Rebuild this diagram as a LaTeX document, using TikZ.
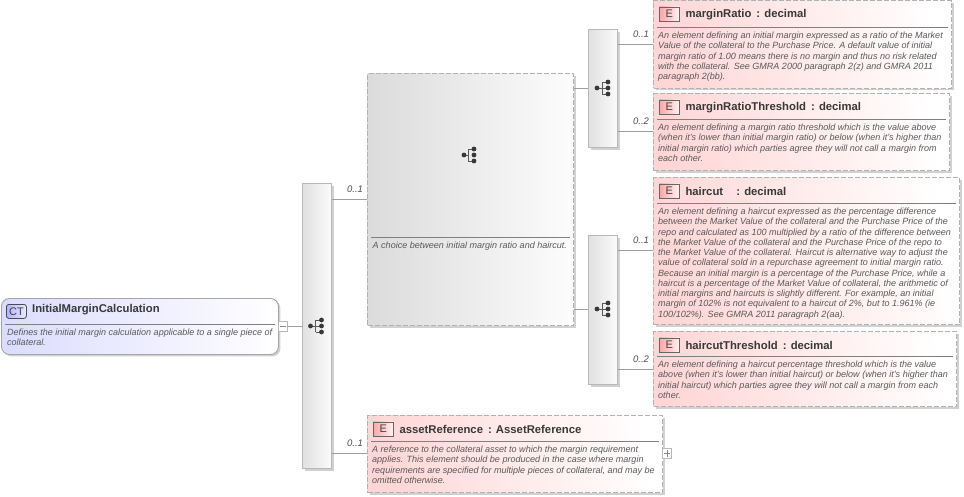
\documentclass[tikz,border=0pt]{standalone}
\usepackage{fontspec}
\usetikzlibrary{shadows}
\setmainfont{Liberation Sans}
\tikzset{
  x=1pt,y=-1pt,
  shadowed/.style={drop shadow={fill=black!18,opacity=1,shadow xshift=2pt,shadow yshift=-2pt}},
  ebox/.style={anchor=north west,inner sep=0,shadowed,draw=black!30,dash pattern=on 5pt off 2pt,line width=1pt,left color=red!16,middle color=red!9,right color=white,shading angle=100},
  chbox/.style={anchor=north west,inner sep=0,shadowed,draw=black!30,dash pattern=on 5pt off 2pt,line width=1pt,left color=black!14,right color=black!1},
  seqbox/.style={anchor=north west,inner sep=0,shadowed,draw=black!28,line width=1pt,left color=black!12,right color=black!1.5},
  ctbox/.style={anchor=north west,inner sep=0,shadowed,draw=black!35,line width=.9pt,rounded corners=8pt,left color=blue!14,right color=white},
  badge/.style={anchor=north west,inner sep=0,draw=black!60,line width=.8pt,left color=red!35,right color=red!5,minimum width=20pt,minimum height=14pt,font=\fontsize{11}{11}\selectfont,text=black!75},
  ttl/.style={anchor=west,inner sep=0,font=\bfseries\fontsize{11.3}{12}\selectfont,text=black!78},
  desc/.style={anchor=north west,inner sep=0,align=left,font=\itshape\fontsize{9.03}{10.25}\selectfont,text=black!65},
  card/.style={anchor=south,inner sep=0,font=\itshape\fontsize{9.5}{10}\selectfont,text=black!70},
  sep/.style={draw=black!50,line width=.7pt},
  conn/.style={draw=black!38,line width=.7pt},
  tog/.style={anchor=north west,inner sep=0,draw=black!28,line width=.6pt,fill=white,minimum width=9pt,minimum height=10pt},
  icon/.style={draw=black!65,line width=.8pt},
}
\newcommand{\seqicon}[2]{%
  \begin{scope}[shift={(#1,#2)}]
    \draw[icon] (-6,0)--(-1,0) (-1,-6)--(-1,6) (-1,-6)--(5,-6) (-1,0)--(5,0) (-1,6)--(5,6);
    \fill[black!78] (-6,0) circle (2.4) (5,-6) circle (2.4) (5,0) circle (2.4) (5,6) circle (2.4);
  \end{scope}}
\newcommand{\choiceicon}[2]{%
  \begin{scope}[shift={(#1,#2)}]
    \draw[icon] (-6,0)--(-2,0) (-2,-6)--(-2,6) (-2,-6)--(4,-6) (-2,6)--(4,6);
    \fill[black!78] (-6,0) circle (2.4) (4,-6) circle (2.4) (4,0) circle (2.4) (4,6) circle (2.4);
  \end{scope}}
\newcommand{\elem}[8]{% name,x,y,w,h,title,sepy,text
  \node[ebox,minimum width=#4pt,minimum height=#5pt] (#1) at (#2,#3) {};
  \node[badge] (#1b) at ([xshift=6pt,yshift=-6.5pt]#1.north west) {E};
  \node[ttl] (#1t) at ([xshift=5.5pt,yshift=-.5pt]#1b.east) {#6};
  \draw[sep] ([xshift=4pt,yshift=-#7pt]#1.north west) -- ([xshift=-4pt,yshift=-#7pt]#1.north east);
  \node[desc] (#1d) at ([xshift=5pt,yshift=-#7pt-4.8pt]#1.north west) {#8};
}
\begin{document}
\begin{tikzpicture}
\useasboundingbox (0,0) rectangle (964,496);

% complex type
\node[ctbox,minimum width=277pt,minimum height=56pt] (ct) at (1,298) {};
\node[anchor=north west,inner sep=0,draw=black!70,line width=.8pt,rounded corners=2.5pt,left color=blue!30,right color=blue!8,minimum width=20pt,minimum height=14pt,font=\fontsize{11}{11}\selectfont,text=black!75] (ctb) at (6,304) {CT};
\node[ttl] (ctt) at (32,310) {InitialMarginCalculation};
\draw[sep] (5,324) -- (275,324);
\node[desc] (ctd) at (7,328.8) {Defines the initial margin calculation applicable to a single piece of\\collateral.};

% sequence and choice boxes
\node[seqbox,minimum width=29pt,minimum height=285pt] (s1) at (302,183) {};
\node[seqbox,minimum width=29pt,minimum height=118pt] (s2) at (588,29) {};
\node[seqbox,minimum width=29pt,minimum height=149pt] (s3) at (588,235) {};
\node[chbox,minimum width=206pt,minimum height=252pt] (ch) at (367,73) {};
\draw[sep] (371,237) -- (570,237);
\node[desc] (chd) at (372.5,241.8) {A choice between initial margin ratio and haircut.};

% elements
\elem{mr}{653}{0}{298}{87.5}{marginRatio\, : decimal}{27}{An element defining an initial margin expressed as a ratio of the Market\\Value of the collateral to the Purchase Price. A default value of initial\\margin ratio of 1.00 means there is no margin and thus no risk related\\with the collateral. See GMRA 2000 paragraph 2(z) and GMRA 2011\\paragraph 2(bb).}
\elem{mt}{653}{93}{296}{77}{marginRatioThreshold\, : decimal}{26}{An element defining a margin ratio threshold which is the value above\\(when it's lower than initial margin ratio) or below (when it's higher than\\initial margin ratio) which parties agree they will not call a margin from\\each other.}
\elem{hc}{653}{177}{306}{147}{haircut\hspace{10pt} : decimal}{26}{An element defining a haircut expressed as the percentage difference\\between the Market Value of the collateral and the Purchase Price of the\\repo and calculated as 100 multiplied by a ratio of the difference between\\the Market Value of the collateral and the Purchase Price of the repo to\\the Market Value of the collateral. Haircut is alternative way to adjust the\\value of collateral sold in a repurchase agreement to initial margin ratio.\\Because an initial margin is a percentage of the Purchase Price, while a\\haircut is a percentage of the Market Value of collateral, the arithmetic of\\initial margins and haircuts is slightly different. For example, an initial\\margin of 102\% is not equivalent to a haircut of 2\%, but to 1.961\% (ie\\100/102\%). See GMRA 2011 paragraph 2(aa).}
\elem{ht}{653}{331}{303}{75}{haircutThreshold\, : decimal}{25}{An element defining a haircut percentage threshold which is the value\\above (when it's lower than initial haircut) or below (when it's higher than\\initial haircut) which parties agree they will not call a margin from each\\other.}
\elem{ar}{367}{415}{295}{77}{assetReference\, : AssetReference}{26}{A reference to the collateral asset to which the margin requirement\\applies. This element should be produced in the case where margin\\requirements are specified for multiple pieces of collateral, and may be\\omitted otherwise.}

% toggles
\node[tog] (minus) at (278,321) {};
\draw[black!45,line width=.5pt] ([xshift=2pt]minus.west) -- ([xshift=-2pt]minus.east);
\node[tog] (plus) at (662,448) {};
\draw[black!45,line width=.5pt] ([xshift=2pt]plus.west) -- ([xshift=-2pt]plus.east) ([yshift=2pt]plus.south) -- ([yshift=-2pt]plus.north);

% connectors
\draw[conn] (minus.east) -- (s1.west |- minus.east);
\draw[conn] (s1.east |- 0,199) -- (ch.west |- 0,199);
\draw[conn] (s1.east |- 0,453) -- (ar.west |- 0,453);
\draw[conn] (ch.east |- 0,88) -- (s2.west |- 0,88);
\draw[conn] (ch.east |- 0,309) -- (s3.west |- 0,309);
\draw[conn] (s2.east |- 0,44) -- (mr.west |- 0,44);
\draw[conn] (s2.east |- 0,131) -- (mt.west |- 0,131);
\draw[conn] (s3.east |- 0,250) -- (hc.west |- 0,250);
\draw[conn] (s3.east |- 0,369) -- (ht.west |- 0,369);

% cardinalities
\node[card] (c1) at (355,192.5) {0..1};
\node[card] (c2) at (355,446.5) {0..1};
\node[card] (c3) at (641,37.5) {0..1};
\node[card] (c4) at (641,124.5) {0..2};
\node[card] (c5) at (641,243.5) {0..1};
\node[card] (c6) at (641,362.5) {0..2};

% icons
\seqicon{316.5}{326}
\seqicon{603}{88}
\seqicon{603}{309}
\choiceicon{470}{155}
\end{tikzpicture}
\end{document}
